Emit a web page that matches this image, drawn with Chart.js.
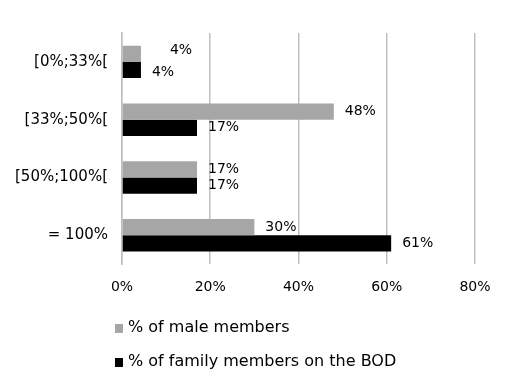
<!DOCTYPE html>
<html>
<head>
<meta charset="utf-8">
<script src="https://cdn.jsdelivr.net/npm/chart.js@4/dist/chart.umd.min.js"></script>
<style>
  html, body { margin: 0; padding: 0; background: #fff; }
  #wrap { width: 508px; height: 387px; }
</style>
</head>
<body>
<div id="wrap"><canvas id="myChart"></canvas></div>
<script>
const categories = ['[0%;33%[', '[33%;50%[', '[50%;100%[', '= 100%'];
const maleMembers = [4.3, 48, 17, 30];
const familyMembers = [4.3, 17, 17, 61];
const maleLabels = ['4%', '48%', '17%', '30%'];
const familyLabels = ['4%', '17%', '17%', '61%'];
const xTicks = [0, 20, 40, 60, 80];

const FONT = "'DejaVu Sans'";

// value labels next to the bar ends
const barLabels = {
  id: 'barLabels',
  afterDatasetsDraw(chart) {
    const ctx = chart.ctx;
    ctx.save();
    ctx.font = '14px ' + FONT;
    ctx.fillStyle = '#000';
    ctx.textBaseline = 'middle';
    chart.data.datasets.forEach((ds, i) => {
      chart.getDatasetMeta(i).data.forEach((bar, j) => {
        let x = bar.x + 11;
        let y = bar.y;
        // Excel pushed the first pair apart
        if (j === 0 && i === 0) { x += 18; y -= 3; }
        if (j === 0 && i === 1) { y += 2; }
        ctx.fillText(ds.valueLabels[j], x, y);
      });
    });
    ctx.restore();
  }
};

// stacked legend under the axis
const stackedLegend = {
  id: 'stackedLegend',
  afterDraw(chart) {
    const ctx = chart.ctx;
    ctx.save();
    ctx.font = '16px ' + FONT;
    ctx.textBaseline = 'middle';
    chart.data.datasets.forEach((ds, i) => {
      const y = 328 + i * 34;
      ctx.fillStyle = ds.backgroundColor;
      ctx.fillRect(115, y - 4, 8, 9);
      ctx.fillStyle = '#000';
      ctx.fillText(ds.label, 128, y);
    });
    ctx.restore();
  }
};

new Chart(document.getElementById('myChart'), {
  type: 'bar',
  data: {
    labels: categories,
    datasets: [{
      label: '% of male members',
      data: maleMembers,
      valueLabels: maleLabels,
      backgroundColor: '#a6a6a6'
    }, {
      label: '% of family members on the BOD',
      data: familyMembers,
      valueLabels: familyLabels,
      backgroundColor: '#000000'
    }]
  },
  options: {
    indexAxis: 'y',
    responsive: true,
    maintainAspectRatio: false,
    animation: false,
    layout: { padding: { top: 33, right: 33, bottom: 76, left: 1 } },
    datasets: { bar: { barPercentage: 1, categoryPercentage: 0.56 } },
    plugins: {
      legend: { display: false },
      tooltip: { enabled: false }
    },
    scales: {
      x: {
        min: 0,
        max: 80,
        afterBuildTicks(axis) { axis.ticks = xTicks.map(v => ({ value: v })); },
        grid: { color: '#c0c0c0', lineWidth: 1.5, tickLength: 0, drawTicks: false },
        border: { display: false },
        ticks: {
          padding: 15,
          color: '#000',
          font: { family: FONT, size: 14 },
          callback: v => v + '%'
        }
      },
      y: {
        grid: { display: false, drawTicks: false, tickLength: 0 },
        border: { display: true, color: '#c0c0c0', width: 1.5 },
        ticks: {
          padding: 14,
          color: '#000',
          font: { family: FONT, size: 15 }
        }
      }
    }
  },
  plugins: [barLabels, stackedLegend]
});
</script>
</body>
</html>
